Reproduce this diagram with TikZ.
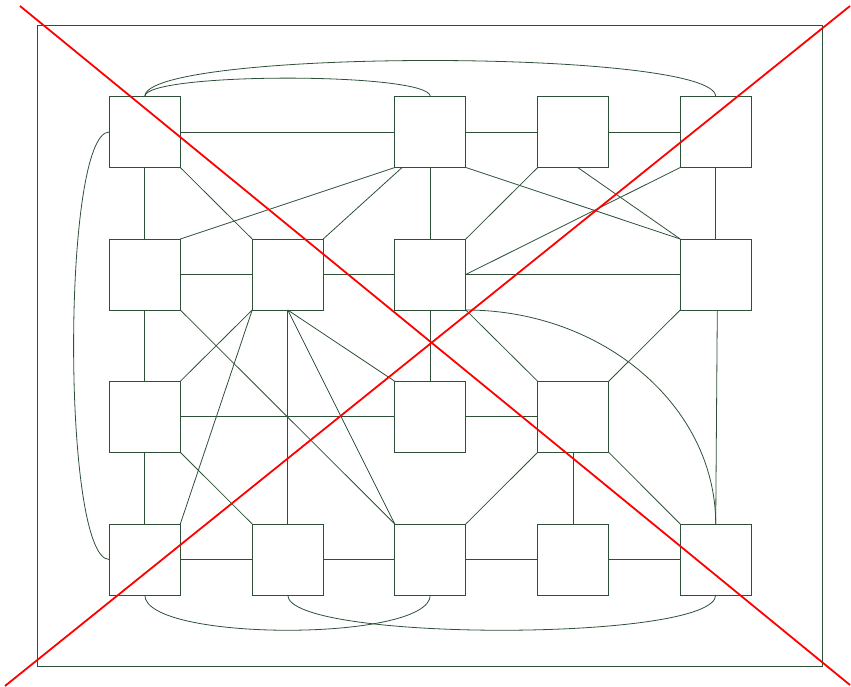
\documentclass[tikz,border=0pt]{standalone}
\begin{document}
\begin{tikzpicture}[x=1pt,y=-1pt,
  line join=miter,
  edge/.style={draw=lg, line width=0.8pt},
  box/.style={draw=lg, line width=0.8pt, minimum size=71pt, inner sep=0pt, outer sep=0pt, fill=none},
  redline/.style={draw=red, line width=1.8pt}]
\definecolor{lg}{HTML}{2E5038}
\useasboundingbox (0,0) rectangle (851,687);
% frame
\draw[edge] (37.7,25) rectangle (822.7,666);
% nodes
\node[box] (A1) at (144.8,132) {};
\node[box] (C1) at (430.3,132) {};
\node[box] (D1) at (573.2,132) {};
\node[box] (E1) at (715.7,132) {};
\node[box] (A2) at (144.8,274.5) {};
\node[box] (B2) at (287.7,274.5) {};
\node[box] (C2) at (430.3,274.5) {};
\node[box] (E2) at (715.7,274.5) {};
\node[box] (A3) at (144.8,416.8) {};
\node[box] (C3) at (430.3,416.8) {};
\node[box] (D3) at (573.2,416.8) {};
\node[box] (A4) at (144.8,559.5) {};
\node[box] (B4) at (287.7,559.5) {};
\node[box] (C4) at (430.3,559.5) {};
\node[box] (D4) at (573.2,559.5) {};
\node[box] (E4) at (715.7,559.5) {};
% straight connectors
\draw[edge] (A1.east) -- (C1.west);
\draw[edge] (C1.east) -- (D1.west);
\draw[edge] (D1.east) -- (E1.west);
\draw[edge] (A1.south) -- (A2.north);
\draw[edge] (A1.south east) -- (B2.north west);
\draw[edge] (C1.south west) -- (A2.north east);
\draw[edge] ([xshift=7.3pt]C1.south west) -- (B2.north east);
\draw[edge] (C1.south) -- (C2.north);
\draw[edge] (C1.south east) -- (E2.north west);
\draw[edge] (D1.south west) -- (C2.north east);
\draw[edge] ([xshift=4.5pt]D1.south) -- (E2.north west);
\draw[edge] (E1.south west) -- (C2.east);
\draw[edge] (E1.south) -- (E2.north);
\draw[edge] (A2.east) -- (B2.west);
\draw[edge] (B2.east) -- (C2.west);
\draw[edge] (C2.east) -- (E2.west);
\draw[edge] (A2.south) -- (A3.north);
\draw[edge] (A2.south east) -- (C4.north west);
\draw[edge] (B2.south west) -- (A3.north east);
\draw[edge] (B2.south west) -- (A4.north east);
\draw[edge] (B2.south) -- (B4.north);
\draw[edge] (B2.south) -- (C4.north west);
\draw[edge] (B2.south) -- (C3.north west);
\draw[edge] (C2.south) -- (C3.north);
\draw[edge] (C2.south east) -- (D3.north west);
\draw[edge] (E2.south west) -- (D3.north east);
\draw[edge] ([xshift=1.6pt]E2.south) -- (E4.north);
\draw[edge] (A3.east) -- (C3.west);
\draw[edge] (C3.east) -- (D3.west);
\draw[edge] (A3.south east) -- (B4.north west);
\draw[edge] (A3.south) -- (A4.north);
\draw[edge] (D3.south) -- (D4.north);
\draw[edge] (D3.south west) -- (C4.north east);
\draw[edge] (D3.south east) -- (E4.north west);
\draw[edge] (A4.east) -- (B4.west);
\draw[edge] (B4.east) -- (C4.west);
\draw[edge] (C4.east) -- (D4.west);
\draw[edge] (D4.east) -- (E4.west);
% curved connectors
\draw[edge] (C2.south east) .. controls +(137,0) and +(0,-118) .. (E4.north);
\draw[edge] (A1.north) .. controls +(0,-24.5) and +(0,-24.5) .. (C1.north);
\draw[edge] (A1.north) .. controls +(0,-48) and +(0,-48) .. (E1.north);
\draw[edge] (A1.west) .. controls +(-47.6,0) and +(-47.6,0) .. (A4.west);
\draw[edge] (A4.south) .. controls +(0,47) and +(0,47) .. (C4.south);
\draw[edge] (B4.south) .. controls +(0,47) and +(0,47) .. (E4.south);
% red cross
\coordinate (r1) at (20,6);
\coordinate (r2) at (850,685);
\coordinate (r3) at (850,6);
\coordinate (r4) at (5,686);
\draw[redline] (r1) -- (r2);
\draw[redline] (r3) -- (r4);
\end{tikzpicture}
\end{document}
